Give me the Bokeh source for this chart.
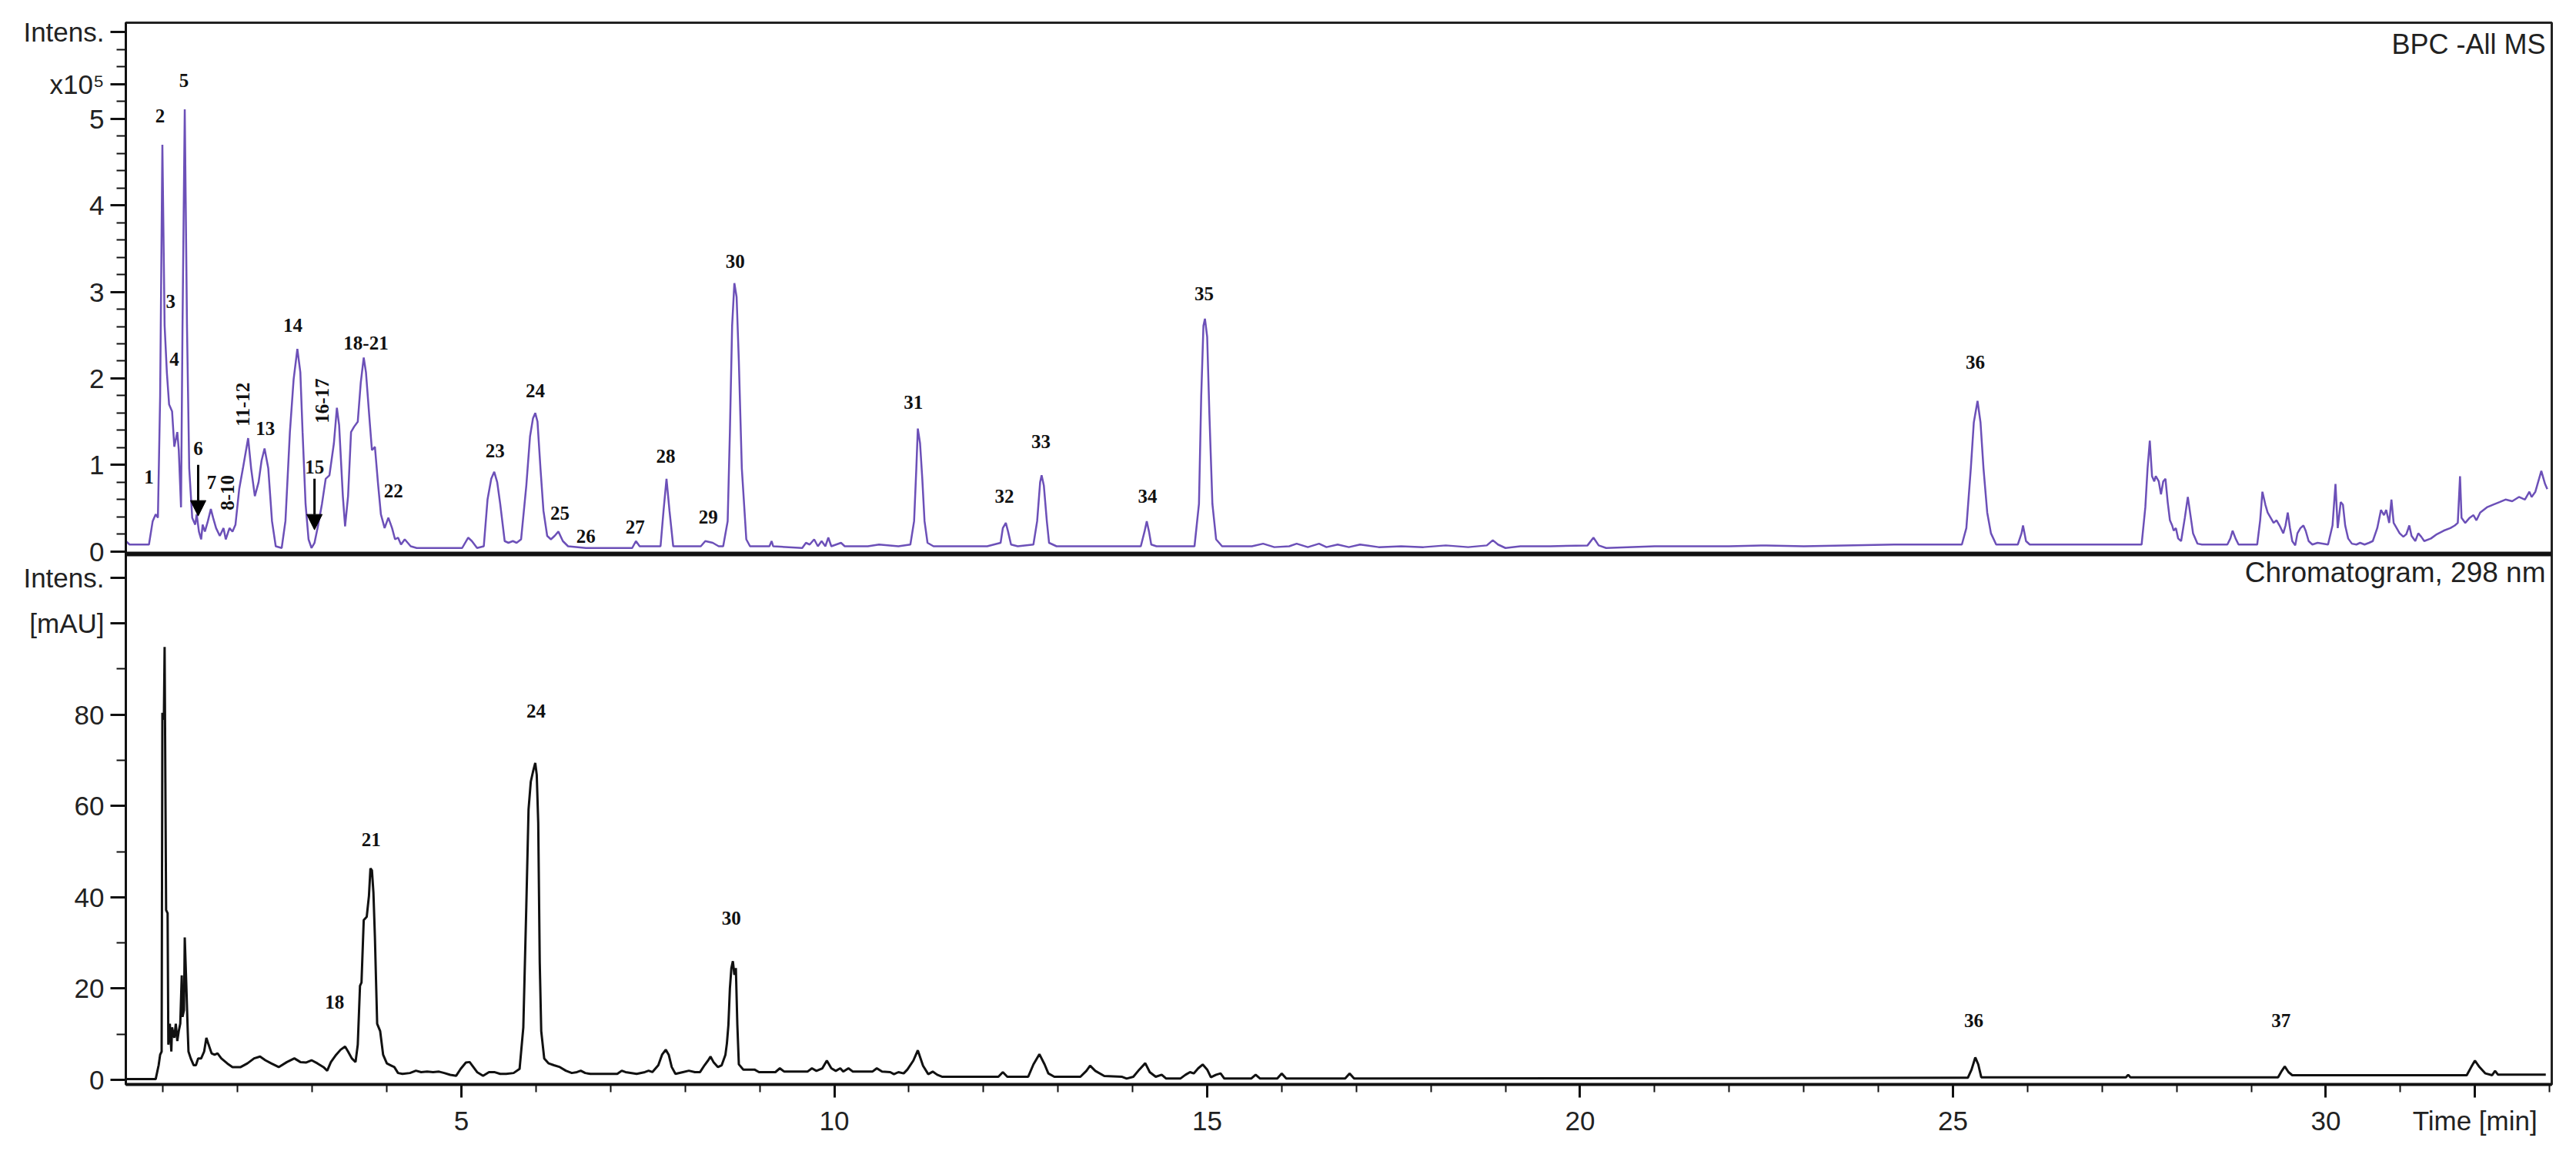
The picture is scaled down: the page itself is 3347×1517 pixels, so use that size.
from bokeh.plotting import figure
from bokeh.models import Range1d, FixedTicker, Label, Arrow, NormalHead, Span
from bokeh.core.properties import value
from bokeh.embed import file_html
from bokeh.resources import INLINE

# ---------------- data ----------------
# BPC - All MS trace: time [min], intensity [x10^5]
bpc_t = [0.50, 0.55, 0.81, 0.86, 0.90, 0.93, 0.96, 0.99, 1.02, 1.05, 1.08, 1.12, 1.15, 1.19, 1.21, 1.24,
         1.26, 1.29, 1.32, 1.35, 1.39, 1.43, 1.45, 1.48, 1.51, 1.53, 1.56, 1.60, 1.64, 1.67, 1.71, 1.76,
         1.81, 1.84, 1.89, 1.93, 1.97, 2.02, 2.07, 2.14, 2.18, 2.23, 2.28, 2.32, 2.36, 2.41, 2.46, 2.51,
         2.59, 2.64, 2.70, 2.75, 2.80, 2.84, 2.87, 2.91, 2.95, 2.99, 3.03, 3.08, 3.13, 3.18, 3.23, 3.29,
         3.33, 3.36, 3.41, 3.44, 3.48, 3.52, 3.56, 3.61, 3.65, 3.69, 3.72, 3.77, 3.80, 3.84, 3.88, 3.92,
         3.97, 4.02, 4.07, 4.11, 4.15, 4.19, 4.24, 4.32, 4.40, 5.01, 5.09, 5.14, 5.21, 5.30, 5.35, 5.40,
         5.44, 5.48, 5.52, 5.58, 5.63, 5.69, 5.74, 5.80, 5.87, 5.92, 5.96, 5.99, 6.02, 6.06, 6.10, 6.15,
         6.20, 6.25, 6.30, 6.36, 6.43, 6.67, 7.29, 7.34, 7.39, 7.67, 7.71, 7.75, 7.79, 7.84, 8.21, 8.27,
         8.37, 8.45, 8.51, 8.57, 8.60, 8.63, 8.66, 8.69, 8.72, 8.76, 8.79, 8.82, 8.87, 9.13, 9.16, 9.18,
         9.57, 9.62, 9.67, 9.73, 9.78, 9.83, 9.88, 9.92, 9.96, 10.09, 10.14, 10.45, 10.60, 10.86, 11.02, 11.07,
         11.10, 11.12, 11.15, 11.18, 11.21, 11.25, 11.33, 12.05, 12.23, 12.26, 12.30, 12.33, 12.37, 12.46, 12.67, 12.72,
         12.76, 12.78, 12.81, 12.85, 12.88, 12.98, 14.11, 14.16, 14.19, 14.22, 14.25, 14.32, 14.83, 14.89, 14.92, 14.95,
         14.97, 15.00, 15.03, 15.07, 15.12, 15.20, 15.60, 15.75, 15.90, 16.10, 16.20, 16.35, 16.50, 16.60, 16.75, 16.90,
         17.05, 17.30, 17.60, 17.90, 18.20, 18.50, 18.75, 18.83, 18.90, 19.00, 19.20, 19.60, 20.10, 20.18, 20.25, 20.35,
         21.00, 22.00, 22.50, 23.00, 24.21, 25.12, 25.18, 25.24, 25.28, 25.33, 25.37, 25.41, 25.46, 25.51, 25.58, 25.87,
         25.92, 25.94, 25.98, 26.03, 27.53, 27.58, 27.61, 27.64, 27.67, 27.70, 27.72, 27.76, 27.79, 27.82, 27.85, 27.88,
         27.91, 27.94, 27.96, 27.99, 28.02, 28.06, 28.11, 28.15, 28.19, 28.22, 28.28, 28.34, 28.68, 28.72, 28.75, 28.79,
         28.83, 29.08, 29.12, 29.15, 29.19, 29.22, 29.26, 29.30, 29.34, 29.38, 29.43, 29.46, 29.49, 29.52, 29.55, 29.59,
         29.62, 29.66, 29.70, 29.73, 29.77, 29.82, 29.89, 30.03, 30.09, 30.13, 30.16, 30.20, 30.23, 30.26, 30.30, 30.35,
         30.41, 30.46, 30.52, 30.58, 30.63, 30.69, 30.74, 30.78, 30.81, 30.85, 30.88, 30.91, 30.95, 30.99, 31.04, 31.08,
         31.12, 31.15, 31.20, 31.24, 31.28, 31.32, 31.41, 31.49, 31.58, 31.67, 31.73, 31.77, 31.80, 31.82, 31.87, 31.93,
         31.98, 32.02, 32.07, 32.16, 32.24, 32.33, 32.41, 32.50, 32.59, 32.67, 32.73, 32.76, 32.81, 32.85, 32.89, 32.92,
         32.94, 32.97]
bpc_i = [0.12, 0.08, 0.08, 0.35, 0.43, 0.39, 1.79, 4.70, 2.61, 2.07, 1.70, 1.62, 1.21, 1.38, 1.17, 0.51,
         2.61, 5.11, 2.61, 0.96, 0.39, 0.31, 0.43, 0.23, 0.14, 0.31, 0.23, 0.35, 0.49, 0.39, 0.27, 0.18,
         0.27, 0.14, 0.27, 0.23, 0.31, 0.72, 0.96, 1.31, 0.96, 0.64, 0.80, 1.05, 1.19, 0.96, 0.35, 0.06,
         0.04, 0.35, 1.38, 1.99, 2.34, 2.07, 1.38, 0.55, 0.14, 0.04, 0.10, 0.31, 0.55, 0.84, 0.88, 1.25,
         1.66, 1.46, 0.64, 0.29, 0.64, 1.38, 1.44, 1.50, 1.95, 2.24, 2.07, 1.50, 1.17, 1.21, 0.80, 0.43,
         0.27, 0.39, 0.27, 0.14, 0.16, 0.08, 0.14, 0.06, 0.04, 0.04, 0.16, 0.12, 0.04, 0.06, 0.60, 0.84,
         0.92, 0.80, 0.55, 0.12, 0.10, 0.12, 0.10, 0.14, 0.76, 1.33, 1.54, 1.60, 1.50, 0.96, 0.47, 0.18,
         0.14, 0.18, 0.23, 0.12, 0.06, 0.04, 0.04, 0.12, 0.06, 0.06, 0.47, 0.84, 0.47, 0.06, 0.06, 0.12,
         0.10, 0.06, 0.06, 0.35, 1.38, 2.61, 3.10, 2.94, 2.20, 0.96, 0.55, 0.14, 0.06, 0.06, 0.12, 0.06,
         0.04, 0.10, 0.08, 0.14, 0.06, 0.12, 0.06, 0.16, 0.06, 0.10, 0.06, 0.06, 0.08, 0.06, 0.08, 0.35,
         0.96, 1.42, 1.25, 0.84, 0.35, 0.10, 0.06, 0.06, 0.10, 0.27, 0.33, 0.23, 0.08, 0.06, 0.08, 0.35,
         0.80, 0.88, 0.76, 0.35, 0.10, 0.06, 0.06, 0.23, 0.35, 0.23, 0.08, 0.06, 0.06, 0.55, 1.79, 2.61,
         2.69, 2.48, 1.58, 0.55, 0.14, 0.06, 0.06, 0.09, 0.05, 0.06, 0.09, 0.05, 0.09, 0.05, 0.08, 0.05,
         0.08, 0.05, 0.06, 0.05, 0.07, 0.05, 0.07, 0.13, 0.08, 0.04, 0.06, 0.06, 0.07, 0.16, 0.07, 0.04,
         0.06, 0.06, 0.07, 0.06, 0.08, 0.08, 0.27, 0.96, 1.49, 1.74, 1.49, 0.96, 0.45, 0.21, 0.08, 0.08,
         0.21, 0.30, 0.12, 0.08, 0.08, 0.51, 0.96, 1.28, 0.87, 0.81, 0.87, 0.81, 0.66, 0.81, 0.84, 0.57,
         0.36, 0.30, 0.24, 0.27, 0.15, 0.12, 0.39, 0.63, 0.39, 0.21, 0.09, 0.08, 0.08, 0.15, 0.24, 0.15,
         0.08, 0.08, 0.36, 0.69, 0.54, 0.45, 0.39, 0.33, 0.36, 0.30, 0.21, 0.30, 0.45, 0.27, 0.12, 0.07,
         0.21, 0.27, 0.30, 0.24, 0.12, 0.08, 0.10, 0.08, 0.30, 0.78, 0.27, 0.57, 0.54, 0.30, 0.15, 0.09,
         0.08, 0.10, 0.08, 0.10, 0.12, 0.27, 0.48, 0.42, 0.48, 0.33, 0.60, 0.33, 0.27, 0.21, 0.17, 0.20,
         0.30, 0.18, 0.12, 0.21, 0.17, 0.12, 0.15, 0.20, 0.24, 0.27, 0.30, 0.33, 0.87, 0.39, 0.33, 0.39,
         0.42, 0.36, 0.45, 0.51, 0.54, 0.57, 0.60, 0.58, 0.63, 0.60, 0.69, 0.63, 0.69, 0.81, 0.93, 0.84,
         0.78, 0.72]

# UV chromatogram at 298 nm: time [min], intensity [mAU]
uv_t = [0.50, 0.90, 0.94, 0.96, 0.98, 0.99, 1.01, 1.02, 1.04, 1.06, 1.07, 1.09, 1.11, 1.12, 1.15, 1.17,
        1.19, 1.21, 1.23, 1.25, 1.26, 1.28, 1.29, 1.31, 1.33, 1.34, 1.37, 1.41, 1.44, 1.47, 1.51, 1.55,
        1.58, 1.61, 1.65, 1.69, 1.73, 1.78, 1.86, 1.93, 2.04, 2.13, 2.22, 2.30, 2.37, 2.45, 2.55, 2.66,
        2.76, 2.84, 2.92, 2.99, 3.07, 3.15, 3.20, 3.25, 3.32, 3.38, 3.44, 3.48, 3.53, 3.58, 3.61, 3.64,
        3.66, 3.69, 3.73, 3.76, 3.78, 3.80, 3.82, 3.84, 3.87, 3.91, 3.95, 4.00, 4.05, 4.10, 4.15, 4.21,
        4.31, 4.39, 4.46, 4.54, 4.62, 4.70, 4.77, 4.85, 4.93, 4.99, 5.06, 5.11, 5.16, 5.21, 5.29, 5.37,
        5.44, 5.52, 5.60, 5.70, 5.78, 5.83, 5.87, 5.90, 5.93, 5.96, 5.99, 6.01, 6.03, 6.05, 6.07, 6.11,
        6.17, 6.24, 6.32, 6.40, 6.48, 6.55, 6.60, 6.66, 6.73, 7.09, 7.15, 7.20, 7.35, 7.46, 7.51, 7.56,
        7.64, 7.69, 7.74, 7.78, 7.82, 7.87, 7.97, 8.05, 8.13, 8.20, 8.26, 8.31, 8.34, 8.38, 8.44, 8.49,
        8.54, 8.56, 8.58, 8.60, 8.62, 8.64, 8.66, 8.68, 8.70, 8.72, 8.78, 8.93, 8.99, 9.21, 9.27, 9.33,
        9.64, 9.70, 9.76, 9.84, 9.90, 9.96, 10.02, 10.08, 10.12, 10.19, 10.25, 10.51, 10.57, 10.64, 10.75, 10.80,
        10.86, 10.93, 10.98, 11.06, 11.12, 11.19, 11.26, 11.32, 11.38, 11.45, 12.20, 12.26, 12.32, 12.60, 12.67, 12.75,
        12.82, 12.87, 12.95, 13.30, 13.38, 13.43, 13.50, 13.62, 13.86, 13.92, 14.01, 14.09, 14.17, 14.23, 14.31, 14.39,
        14.45, 14.64, 14.71, 14.77, 14.82, 14.88, 14.94, 15.00, 15.05, 15.12, 15.18, 15.23, 15.59, 15.65, 15.71, 15.94,
        16.00, 16.06, 16.85, 16.91, 16.97, 25.20, 25.25, 25.30, 25.34, 25.38, 27.32, 27.35, 27.38, 29.36, 29.41, 29.45,
        29.50, 29.55, 31.89, 31.95, 32.00, 32.06, 32.14, 32.23, 32.27, 32.31, 32.95]
uv_i = [0.15, 0.15, 3.2, 5.5, 6.2, 80.4, 78.9, 94.8, 37.2, 36.5, 7.7, 12.3, 6.2, 11.5, 9.2, 12.3,
        8.5, 10.7, 12.3, 22.9, 13.8, 15.3, 31.2, 21.3, 10.7, 6.2, 4.7, 3.2, 3.2, 4.7, 4.7, 6.2,
        9.2, 7.7, 5.8, 5.5, 5.8, 4.7, 3.6, 2.8, 2.8, 3.6, 4.7, 5.1, 4.3, 3.6, 2.8, 3.9,
        4.7, 3.9, 3.8, 4.3, 3.6, 2.8, 2.0, 3.9, 5.5, 6.6, 7.3, 6.2, 4.7, 3.9, 7.7, 20.6,
        21.3, 35.0, 35.7, 40.3, 46.3, 45.9, 41.0, 31.2, 12.3, 10.7, 5.5, 3.6, 3.2, 2.8, 1.5, 1.3,
        1.5, 2.0, 1.7, 1.8, 1.7, 1.8, 1.5, 1.1, 0.9, 2.4, 3.8, 3.9, 2.8, 1.7, 0.9, 1.7,
        1.7, 1.3, 1.3, 1.5, 2.4, 11.5, 38.0, 59.2, 65.3, 67.5, 69.4, 66.8, 56.2, 25.9, 10.7, 4.7,
        3.6, 3.2, 2.8, 2.0, 1.5, 1.7, 2.0, 1.5, 1.3, 1.3, 2.0, 1.7, 1.3, 1.7, 2.0, 1.7,
        3.2, 5.5, 6.6, 5.5, 2.8, 1.3, 1.7, 2.0, 1.7, 1.7, 3.2, 4.3, 5.1, 3.9, 2.8, 3.2,
        5.5, 8.0, 12.0, 20.0, 24.5, 26.0, 23.0, 24.5, 12.0, 3.4, 2.25, 2.25, 1.69, 1.69, 2.53, 1.80,
        1.80, 2.53, 1.97, 2.53, 4.22, 2.53, 1.97, 2.53, 1.80, 2.53, 1.80, 1.80, 2.53, 1.80, 1.69, 1.24,
        1.69, 1.41, 2.25, 4.22, 6.46, 3.09, 1.24, 1.80, 1.12, 0.67, 0.67, 1.69, 0.67, 0.67, 3.37, 5.62,
        3.37, 1.41, 0.67, 0.67, 1.97, 3.09, 1.97, 0.84, 0.67, 0.28, 0.67, 2.25, 3.65, 1.69, 0.67, 1.12,
        0.28, 0.28, 1.12, 1.69, 1.41, 2.53, 3.37, 2.25, 0.56, 1.12, 1.41, 0.28, 0.28, 1.12, 0.28, 0.28,
        1.41, 0.28, 0.28, 1.41, 0.28, 0.45, 2.25, 4.9, 3.37, 0.56, 0.56, 1.12, 0.56, 0.56, 1.97, 2.92,
        1.69, 1.01, 1.01, 2.81, 4.22, 2.81, 1.41, 1.01, 1.97, 1.12, 1.12]

# peak labels, BPC panel
ms_labels = ["1", "2", "3", "4", "5", "6", "7", "13", "14", "15", "18-21", "22", "23", "24", "25", "26",
             "27", "28", "29", "30", "31", "32", "33", "34", "35", "36"]
ms_label_t = [0.81, 0.96, 1.10, 1.15, 1.28, 1.47, 1.65, 2.37, 2.74, 3.03, 3.72, 4.09, 5.45, 5.99, 6.32, 6.67,
              7.33, 7.74, 8.31, 8.67, 11.06, 12.28, 12.77, 14.20, 14.96, 25.30]
ms_label_i = [0.86, 5.03, 2.89, 2.22, 5.44, 1.19, 0.80, 1.42, 2.61, 0.98, 2.41, 0.70, 1.16, 1.86, 0.44, 0.18,
              0.28, 1.10, 0.40, 3.35, 1.72, 0.64, 1.27, 0.64, 2.98, 2.19]
# rotated labels, BPC panel
ms_vlabels = ["8-10", "11-12", "16-17"]
ms_vlabel_t = [1.86, 2.07, 3.13]
ms_vlabel_i = [0.68, 1.70, 1.74]
# arrows, BPC panel (peaks 6 and 15)
arrow_t = [1.47, 3.03]
arrow_from = [1.00, 0.84]
arrow_to = [0.41, 0.25]

# peak labels, UV panel
uv_labels = ["18", "21", "24", "30", "36", "37"]
uv_label_t = [3.30, 3.79, 6.00, 8.62, 25.28, 29.40]
uv_label_i = [17.0, 52.6, 80.8, 35.4, 13.0, 13.0]

# axes
time_ticks = [5, 10, 15, 20, 25, 30, 32]
time_tick_labels = ["5", "10", "15", "20", "25", "30", "Time [min]"]
time_minor = [1, 2, 3, 4, 6, 7, 8, 9, 11, 12, 13, 14, 16, 17, 18, 19, 21, 22, 23, 24, 26, 27, 28, 29, 31, 33]
ms_ticks = [0, 1, 2, 3, 4, 5, 5.4, 6]
ms_tick_labels = ["0", "1", "2", "3", "4", "5", "x10\u2075", "Intens."]
ms_minor = [0.2, 0.4, 0.6, 0.8, 1.2, 1.4, 1.6, 1.8, 2.2, 2.4, 2.6, 2.8, 3.2, 3.4, 3.6, 3.8,
            4.2, 4.4, 4.6, 4.8, 5.2, 5.6, 5.8]
uv_ticks = [0, 20, 40, 60, 80, 100, 110]
uv_tick_labels = ["0", "20", "40", "60", "80", "[mAU]", "Intens."]
uv_minor = [10, 30, 50, 70, 90]

# ---------------- layout / styling ----------------
SANS = "Liberation Sans"
SERIF = "Liberation Serif"
TICK_FS = "35px"
PEAK_FS = "25px"
PURPLE = "#6c50b8"
X0, X1 = 0.5, 33.03
UV0, UV1 = -1.01, 231.54      # whole frame in mAU (UV panel = lower half)
MS0, MS1 = -6.159, 6.11       # whole frame in x10^5 (BPC panel = upper half)
PANEL_SPLIT = 115.18          # boundary between the panels, in mAU


def ms_to_uv(v):
    return round(UV0 + (v - MS0) * (UV1 - UV0) / (MS1 - MS0), 5)


p = figure(width=3331, height=1501, x_range=Range1d(X0, X1), y_range=Range1d(UV0, UV1),
           output_backend="svg", toolbar_location=None,
           min_border_left=163, min_border_right=16, min_border_top=29, min_border_bottom=93)
p.extra_y_ranges = {"ms": Range1d(MS0, MS1)}
p.grid.visible = False
p.outline_line_color = "#222222"
p.outline_line_width = 3
p.background_fill_color = "white"
p.border_fill_color = "white"

# y axis: one axis carrying both panels' ticks
y_major = uv_ticks + [ms_to_uv(v) for v in ms_ticks]
y_labels = uv_tick_labels + ms_tick_labels
y_minor = uv_minor + [ms_to_uv(v) for v in ms_minor]
ya = p.yaxis[0]
ya.ticker = FixedTicker(ticks=y_major, minor_ticks=y_minor)
ya.major_label_overrides = {k: s for k, s in zip(y_major, y_labels)}
ya.axis_line_color = "#111111"
ya.axis_line_width = 3
ya.major_tick_in = 0
ya.major_tick_out = 20
ya.minor_tick_in = 0
ya.minor_tick_out = 12
ya.major_tick_line_width = 3
ya.minor_tick_line_width = 2
ya.major_tick_line_color = "#111111"
ya.minor_tick_line_color = "#111111"
ya.major_label_text_font = SANS
ya.major_label_text_font_size = TICK_FS
ya.major_label_text_color = "#222222"
ya.major_label_standoff = 8

xa = p.xaxis[0]
xa.ticker = FixedTicker(ticks=time_ticks, minor_ticks=time_minor)
xa.major_label_overrides = {k: s for k, s in zip(time_ticks, time_tick_labels)}
xa.axis_line_color = "#111111"
xa.axis_line_width = 4
xa.major_tick_in = 0
xa.major_tick_out = 17
xa.minor_tick_in = 0
xa.minor_tick_out = 10
xa.major_tick_line_width = 3
xa.minor_tick_line_width = 2
xa.major_tick_line_color = "#111111"
xa.minor_tick_line_color = "#111111"
xa.major_label_text_font = SANS
xa.major_label_text_font_size = TICK_FS
xa.major_label_text_color = "#222222"
xa.major_label_standoff = 10

# thick separator between the two panels
p.add_layout(Span(location=PANEL_SPLIT, dimension="width", line_color="#111111", line_width=6))

# ---- BPC panel ----
p.line(bpc_t, bpc_i, y_range_name="ms", line_color=PURPLE, line_width=2.5)
p.text(x=ms_label_t, y=ms_label_i, text=ms_labels, y_range_name="ms", text_font=value(SERIF),
       text_font_style="bold", text_font_size=PEAK_FS, text_align="center", text_baseline="middle",
       text_color="#111111")
p.text(x=ms_vlabel_t, y=ms_vlabel_i, text=ms_vlabels, y_range_name="ms", text_font=value(SERIF),
       text_font_style="bold", text_font_size=PEAK_FS, text_align="center", text_baseline="middle",
       text_color="#111111", angle=1.5708)
for t, a, b in zip(arrow_t, arrow_from, arrow_to):
    p.add_layout(Arrow(x_start=t, y_start=a, x_end=t, y_end=b, y_range_name="ms", line_width=3,
                       line_color="black", end=NormalHead(size=20, fill_color="black", line_color="black")))
p.add_layout(Label(x=X1, y=5.86, y_range_name="ms", x_offset=-8, text="BPC -All MS", text_align="right",
                   text_baseline="middle", text_font=SANS, text_font_size="36px", text_color="#222222"))

# ---- UV panel ----
p.line(uv_t, uv_i, line_color="#111111", line_width=3)
p.text(x=uv_label_t, y=uv_label_i, text=uv_labels, text_font=value(SERIF), text_font_style="bold",
       text_font_size=PEAK_FS, text_align="center", text_baseline="middle", text_color="#111111")
p.add_layout(Label(x=X1, y=111.1, x_offset=-8, text="Chromatogram, 298 nm", text_align="right",
                   text_baseline="middle", text_font=SANS, text_font_size="37px", text_color="#222222"))

open("out.html", "w").write(file_html(p, INLINE))
